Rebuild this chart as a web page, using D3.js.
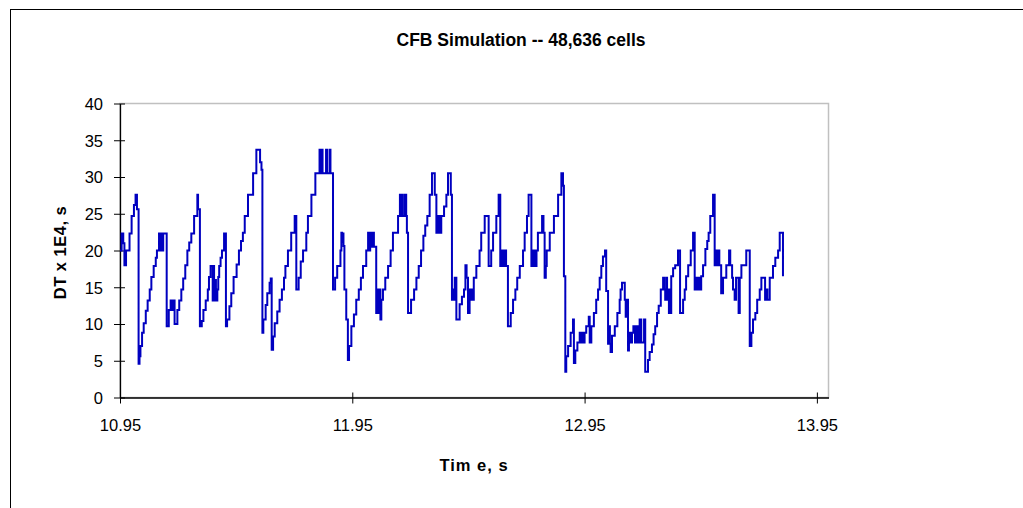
<!DOCTYPE html>
<html>
<head>
<meta charset="utf-8">
<script src="https://cdn.jsdelivr.net/npm/d3@7"></script>
<style>
  html, body { margin: 0; padding: 0; background: #fff; }
  svg { display: block; }
  text { font-family: "Liberation Sans", Arial, sans-serif; fill: #000; }
</style>
</head>
<body>
<svg id="chart" width="1023" height="508"></svg>
<script>
// ---- Data ----
const chartTitle = "CFB Simulation -- 48,636 cells";
const xTitle = "Tim e, s";
const yTitle = "DT x 1E4, s";
const xTicks = [10.95, 11.95, 12.95, 13.95];
const yTicks = [0, 5, 10, 15, 20, 25, 30, 35, 40];

// time (s) at which DT changes, and DT x 1E4 (s) from that time on
const times = [
  10.950, 10.957, 10.964, 10.969, 10.976, 10.991, 11.000, 11.010, 11.017, 11.023,
  11.030, 11.034, 11.038, 11.045, 11.052, 11.061, 11.069, 11.078, 11.085, 11.095,
  11.104, 11.109, 11.118, 11.122, 11.126, 11.131, 11.136, 11.151, 11.160, 11.168,
  11.173, 11.175, 11.178, 11.181, 11.185, 11.197, 11.205, 11.214, 11.222, 11.231,
  11.240, 11.248, 11.257, 11.269, 11.283, 11.286, 11.294, 11.302, 11.309, 11.319,
  11.328, 11.333, 11.340, 11.349, 11.352, 11.355, 11.359, 11.363, 11.369, 11.373,
  11.377, 11.383, 11.389, 11.398, 11.406, 11.411, 11.421, 11.429, 11.439, 11.452,
  11.462, 11.471, 11.479, 11.487, 11.501, 11.523, 11.537, 11.553, 11.559, 11.563,
  11.567, 11.577, 11.584, 11.594, 11.599, 11.603, 11.609, 11.616, 11.627, 11.637,
  11.647, 11.656, 11.662, 11.673, 11.687, 11.702, 11.709, 11.719, 11.728, 11.738,
  11.752, 11.759, 11.774, 11.791, 11.809, 11.813, 11.817, 11.822, 11.837, 11.841,
  11.852, 11.856, 11.867, 11.876, 11.885, 11.899, 11.903, 11.906, 11.909, 11.912,
  11.916, 11.924, 11.931, 11.936, 11.946, 11.957, 11.967, 11.978, 11.987, 11.996,
  12.010, 12.018, 12.024, 12.027, 12.033, 12.037, 12.043, 12.053, 12.058, 12.062,
  12.066, 12.071, 12.075, 12.082, 12.092, 12.104, 12.115, 12.125, 12.147, 12.155,
  12.160, 12.163, 12.167, 12.176, 12.182, 12.185, 12.190, 12.203, 12.216, 12.226,
  12.236, 12.246, 12.256, 12.264, 12.273, 12.283, 12.293, 12.305, 12.312, 12.317,
  12.321, 12.325, 12.329, 12.333, 12.345, 12.355, 12.362, 12.374, 12.379, 12.384,
  12.388, 12.391, 12.398, 12.412, 12.422, 12.431, 12.437, 12.442, 12.448, 12.455,
  12.459, 12.463, 12.470, 12.473, 12.484, 12.498, 12.505, 12.520, 12.537, 12.548,
  12.556, 12.570, 12.580, 12.587, 12.594, 12.599, 12.605, 12.612, 12.620, 12.632,
  12.642, 12.652, 12.660, 12.671, 12.685, 12.692, 12.702, 12.709, 12.721, 12.726,
  12.729, 12.734, 12.739, 12.743, 12.749, 12.767, 12.773, 12.778, 12.783, 12.787,
  12.800, 12.818, 12.836, 12.850, 12.857, 12.861, 12.867, 12.871, 12.879, 12.890,
  12.900, 12.904, 12.910, 12.919, 12.929, 12.933, 12.939, 12.943, 12.950, 12.957,
  12.968, 12.972, 12.979, 12.990, 13.000, 13.008, 13.015, 13.022, 13.029, 13.038,
  13.043, 13.051, 13.055, 13.059, 13.062, 13.068, 13.080, 13.091, 13.101, 13.105,
  13.111, 13.123, 13.127, 13.131, 13.137, 13.141, 13.148, 13.154, 13.160, 13.167,
  13.173, 13.180, 13.187, 13.194, 13.206, 13.211, 13.223, 13.230, 13.240, 13.247,
  13.254, 13.262, 13.269, 13.278, 13.288, 13.293, 13.297, 13.302, 13.305, 13.309,
  13.313, 13.318, 13.321, 13.323, 13.331, 13.340, 13.352, 13.361, 13.374, 13.381,
  13.387, 13.396, 13.407, 13.417, 13.424, 13.430, 13.434, 13.439, 13.444, 13.452,
  13.460, 13.470, 13.478, 13.484, 13.491, 13.503, 13.510, 13.516, 13.520, 13.524,
  13.530, 13.538, 13.546, 13.560, 13.572, 13.577, 13.585, 13.589, 13.596, 13.602,
  13.613, 13.618, 13.625, 13.646, 13.661, 13.668, 13.675, 13.685, 13.693, 13.704,
  13.711, 13.727, 13.732, 13.737, 13.747, 13.761, 13.771, 13.783, 13.790, 13.804
];
const dtValues = [
  20.0, 22.3, 21.0, 18.0, 20.0, 22.3, 24.7, 26.2, 27.6, 25.6,
  4.6, 5.6, 7.0, 8.8, 10.1, 11.8, 13.2, 14.7, 16.4, 17.9,
  19.0, 20.0, 22.3, 20.0, 22.3, 20.0, 22.3, 9.7, 11.9, 13.2,
  11.9, 13.2, 11.9, 13.2, 10.0, 11.9, 13.2, 14.7, 16.2, 18.0,
  20.0, 21.1, 22.3, 24.7, 27.6, 25.6, 9.7, 10.4, 11.9, 13.2,
  14.7, 16.4, 17.9, 13.2, 17.9, 13.2, 16.0, 13.2, 14.7, 16.4,
  17.9, 19.0, 20.0, 22.3, 9.7, 10.6, 12.4, 14.2, 16.4, 18.1,
  20.0, 21.3, 22.4, 24.7, 27.6, 30.5, 33.7, 32.0, 31.0, 8.8,
  10.6, 12.6, 14.2, 15.6, 16.2, 6.5, 8.3, 10.1, 11.7, 13.3,
  14.7, 16.3, 17.9, 20.0, 22.4, 24.7, 14.7, 16.3, 18.5, 20.0,
  22.4, 24.7, 27.6, 30.5, 33.7, 30.5, 33.7, 30.5, 33.7, 30.5,
  33.7, 30.5, 14.7, 16.3, 17.9, 20.0, 22.4, 21.2, 22.3, 20.6,
  14.7, 10.6, 5.1, 7.0, 9.7, 11.3, 13.3, 14.7, 16.3, 17.9,
  20.0, 22.4, 20.0, 22.4, 20.5, 22.4, 20.5, 11.5, 14.7, 11.5,
  14.7, 10.6, 13.3, 14.7, 16.3, 17.9, 20.0, 22.4, 24.7, 27.6,
  24.7, 27.6, 24.7, 27.6, 24.7, 22.4, 11.5, 13.3, 14.7, 16.3,
  17.9, 20.0, 22.0, 23.4, 24.7, 27.6, 30.5, 27.6, 22.4, 24.7,
  22.4, 24.7, 22.4, 24.7, 26.0, 27.6, 30.5, 27.6, 13.3, 14.7,
  13.3, 16.3, 10.6, 12.7, 13.7, 14.7, 18.0, 16.3, 11.5, 14.7,
  13.3, 14.7, 13.3, 16.3, 17.9, 20.0, 22.4, 24.7, 17.9, 20.0,
  22.4, 24.7, 27.6, 17.9, 20.0, 17.9, 20.0, 17.9, 9.7, 11.5,
  13.3, 14.7, 16.3, 17.9, 20.0, 22.4, 24.7, 27.6, 17.9, 20.0,
  17.9, 20.0, 17.9, 20.0, 22.4, 24.7, 22.4, 16.3, 17.9, 20.0,
  22.4, 24.7, 27.6, 30.5, 28.8, 16.5, 3.5, 5.6, 7.0, 8.8,
  10.6, 4.7, 6.4, 7.5, 8.8, 7.5, 8.8, 7.5, 8.8, 9.7,
  11.0, 7.5, 9.7, 11.5, 13.3, 14.7, 16.3, 17.9, 19.2, 20.0,
  14.5, 7.3, 9.7, 7.3, 6.2, 8.4, 9.7, 11.5, 13.3, 14.7,
  15.6, 13.3, 11.0, 13.3, 6.4, 8.8, 7.5, 8.8, 9.7, 7.5,
  9.7, 7.5, 10.6, 7.5, 10.6, 3.5, 5.1, 6.2, 7.2, 8.6,
  9.7, 11.5, 12.5, 14.7, 16.3, 14.7, 13.3, 16.3, 13.3, 14.7,
  11.5, 14.7, 11.5, 16.5, 17.6, 18.0, 20.0, 11.5, 13.3, 14.7,
  16.5, 18.0, 20.0, 22.4, 14.7, 16.3, 14.7, 16.3, 14.7, 16.5,
  18.0, 20.2, 21.3, 22.4, 24.7, 27.6, 18.0, 20.0, 18.0, 20.0,
  18.0, 14.2, 16.3, 18.0, 20.0, 18.0, 16.3, 14.7, 13.3, 16.3,
  11.5, 16.3, 18.0, 20.0, 7.0, 8.8, 10.6, 11.5, 13.3, 14.7,
  16.3, 13.3, 14.7, 13.3, 16.3, 17.9, 19.0, 20.0, 22.4, 16.5
];

// ---- Layout ----
const svg = d3.select("#chart");
const plot = { left: 120, right: 828.5, top: 103.5, bottom: 397.5 };

const x = d3.scaleLinear().domain([10.95, 14.0]).range([plot.left, plot.right]);
const y = d3.scaleLinear().domain([0, 40]).range([plot.bottom, plot.top]);

// outer chart border
svg.append("rect")
  .attr("x", 10.5).attr("y", 9.5)
  .attr("width", 1100).attr("height", 600)
  .attr("fill", "none").attr("stroke", "#000").attr("stroke-width", 1);

// plot area border (grey)
svg.append("rect")
  .attr("x", plot.left).attr("y", plot.top)
  .attr("width", plot.right - plot.left).attr("height", plot.bottom - plot.top)
  .attr("fill", "none").attr("stroke", "#c0c0c0").attr("stroke-width", 1.5);

// title
svg.append("text")
  .attr("x", 521).attr("y", 46)
  .attr("text-anchor", "middle")
  .attr("font-size", "17.5px").attr("font-weight", "bold")
  .text(chartTitle);

// axes
const xAxis = d3.axisBottom(x).tickValues(xTicks).tickFormat(d3.format(".2f"))
  .tickSizeInner(0).tickSizeOuter(0);
const yAxis = d3.axisLeft(y).tickValues(yTicks).tickFormat(d3.format("d"))
  .tickSizeInner(0).tickSizeOuter(0);

const gx = svg.append("g").attr("transform", `translate(0,${plot.bottom})`).call(xAxis);
gx.select(".domain").attr("stroke", "#000").attr("stroke-width", 1.3);
gx.selectAll(".tick line").attr("y1", -5).attr("y2", 6).attr("stroke", "#000");
gx.selectAll(".tick text").attr("y", 33).attr("dy", 0)
  .attr("font-size", "16.5px").attr("font-family", "Liberation Sans, Arial, sans-serif");

const gy = svg.append("g").attr("transform", `translate(${plot.left},0)`).call(yAxis);
gy.select(".domain").attr("stroke", "#000").attr("stroke-width", 1.3);
gy.selectAll(".tick line").attr("x1", -6).attr("x2", 5).attr("stroke", "#000");
gy.selectAll(".tick text").attr("x", -17).attr("dy", "0.35em")
  .attr("font-size", "16.5px").attr("font-family", "Liberation Sans, Arial, sans-serif");

// axis titles
svg.append("text")
  .attr("x", 474).attr("y", 471)
  .attr("text-anchor", "middle")
  .attr("font-size", "16.5px").attr("font-weight", "bold")
  .attr("letter-spacing", "1px")
  .text(xTitle);

svg.append("text")
  .attr("transform", `translate(66,${(plot.top + plot.bottom) / 2 + 2}) rotate(-90)`)
  .attr("text-anchor", "middle")
  .attr("font-size", "16.5px").attr("font-weight", "bold")
  .attr("letter-spacing", "0.5px")
  .text(yTitle);

// data line
const series = times.map((t, i) => ({ t, v: dtValues[i] }));
const line = d3.line()
  .x(d => x(d.t))
  .y(d => y(d.v))
  .curve(d3.curveStepAfter);

svg.append("path")
  .datum(series)
  .attr("fill", "none")
  .attr("stroke", "#0000c0")
  .attr("stroke-width", 2)
  .attr("stroke-linejoin", "miter")
  .attr("d", line);
</script>
</body>
</html>
